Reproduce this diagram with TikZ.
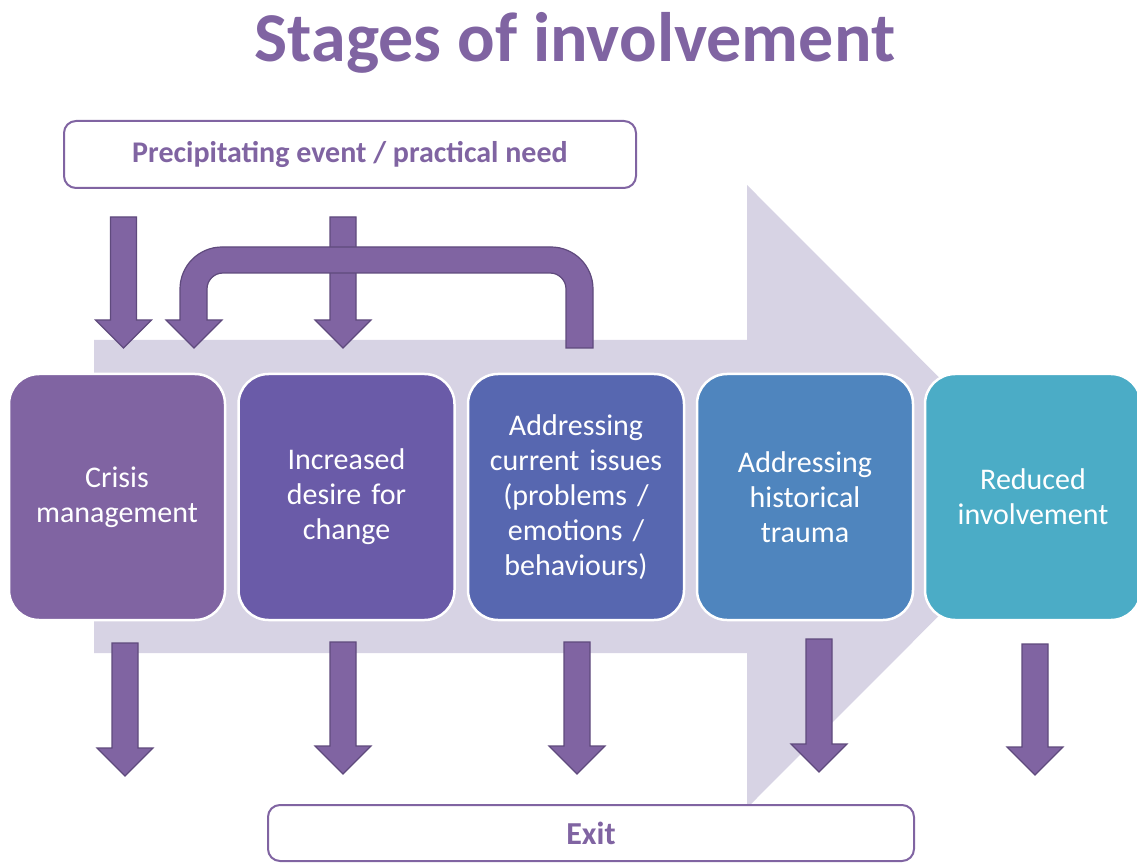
\documentclass[tikz,border=0pt]{standalone}
\usepackage{fontspec}
\setmainfont{Carlito}
\definecolor{ppl}{HTML}{8064A2}
\definecolor{pplDark}{HTML}{5F4A7D}
\definecolor{bgarrow}{HTML}{D7D3E4}
\definecolor{cA}{HTML}{8064A2}
\definecolor{cB}{HTML}{6A5BA8}
\definecolor{cC}{HTML}{5767B0}
\definecolor{cD}{HTML}{4F85BE}
\definecolor{cE}{HTML}{4BACC6}
\tikzset{
  stage/.style={draw=white, line width=2.5pt, rounded corners=30pt,
    minimum width=216pt, minimum height=246pt, text=white, align=center,
    font=\fontsize{30}{35}\selectfont, inner sep=0pt, text width=205pt},
  labelbox/.style={draw=ppl, line width=2pt, fill=white, rounded corners=12pt,
    text=ppl, font=\bfseries\fontsize{30}{36}\selectfont},
  blockarrow/.style={fill=ppl, draw=pplDark, line width=1.2pt, line join=miter},
}
\newcommand\bdarrow[3]{\draw[blockarrow] (#1-13,#2) -- (#1+13,#2) -- (#1+13,#3+28) -- (#1+28,#3+28) -- (#1,#3) -- (#1-28,#3+28) -- (#1-13,#3+28) -- cycle;}
\begin{document}
\begin{tikzpicture}[x=1pt,y=1pt]
\useasboundingbox (0,0) rectangle (1137,863);
% big background arrow
\fill[bgarrow] (94,523) -- (747,523) -- (747,678) -- (1058,366.5) -- (747,55) -- (747,210) -- (94,210) -- cycle;
% title
\node[font=\bfseries\fontsize{70}{82}\selectfont, text=ppl, anchor=base] (title) at (575,801) {Stages of involvement};
% top label
\node[labelbox, minimum width=572pt, minimum height=67pt] (precip) at (350,708.5) {Precipitating event / practical need};
% stages
\node[stage, fill=cA] (s1) at (117,366) {Crisis\\management};
\node[stage, fill=cB] (s2) at (346.5,366) {Increased\\desire for\\change};
\node[stage, fill=cC] (s3) at (576,366) {Addressing\\current issues\\(problems /\\emotions /\\behaviours)};
\node[stage, fill=cD] (s4) at (805,366) {Addressing\\historical\\trauma};
\node[stage, fill=cE] (s5) at (1033,366) {Reduced\\involvement};
% exit
\node[labelbox, minimum width=646pt, minimum height=56pt, font=\bfseries\fontsize{32}{36}\selectfont] (exit) at (591,30) {Exit};
% top arrows
\bdarrow{123.5}{646}{515}
\bdarrow{343}{646}{515}
% U-turn arrow
\draw[blockarrow] (593,515) -- (593,574) arc[start angle=0, end angle=90, radius=42]
  -- (222,616) arc[start angle=90, end angle=180, radius=42]
  -- (180,543) -- (166,543) -- (194,515) -- (222,543) -- (207,543) -- (207,574)
  arc[start angle=180, end angle=90, radius=16]
  -- (550,590) arc[start angle=90, end angle=0, radius=16]
  -- (566,515) -- cycle;
% bottom arrows
\bdarrow{125}{220}{87}
\bdarrow{343}{221}{89}
\bdarrow{577}{221}{89}
\bdarrow{819}{224}{91}
\bdarrow{1035}{219}{88}
\end{tikzpicture}
\end{document}
